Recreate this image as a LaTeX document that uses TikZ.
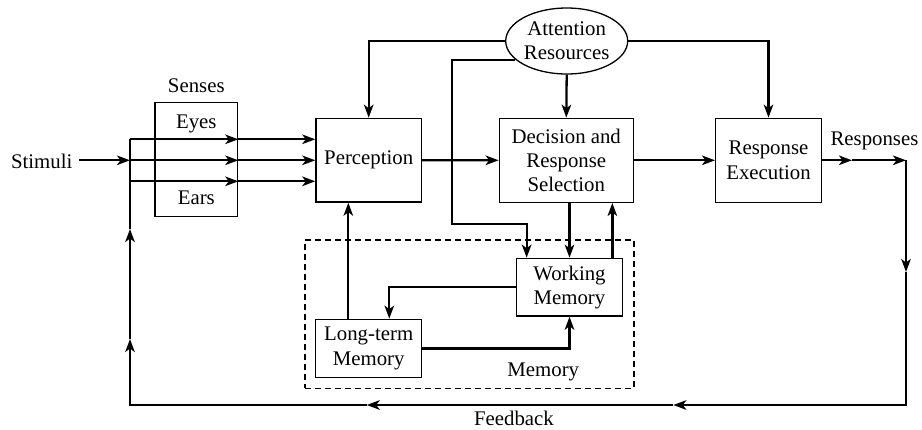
\documentclass[tikz,border=0pt]{standalone}
\usepackage{fontspec}
\setmainfont{Liberation Serif}
\usetikzlibrary{shapes.geometric,arrows.meta}
\begin{document}
\begin{tikzpicture}[x=1pt,y=-1pt,
  font=\fontsize{20.8}{24.3}\selectfont,
  box/.style={draw,line width=1.3pt,inner sep=0pt,align=center},
  conn/.style={line width=2.3pt},
  arr/.style={conn,-{Stealth[length=13pt,width=9.5pt,inset=3.5pt]}},
  lbl/.style={anchor=base,inner sep=0pt}]
\useasboundingbox (0,0) rectangle (922,429);
% nodes
\node[box,minimum width=82.7pt,minimum height=114pt] (senses) at (196.3,159.7) {};
\node[lbl] (senseslbl) at (196.3,92.7) {Senses};
\node[lbl] (eyes) at (196.3,128.3) {Eyes};
\node[lbl] (ears) at (196.3,204) {Ears};
\node[lbl] (stim) at (41.7,168.3) {Stimuli};
\node[box,minimum width=105.5pt,minimum height=83.7pt] (perc) at (368.7,160.2) {Perception};
\node[box,minimum width=134pt,minimum height=84pt] (dec) at (566.3,160.3) {Decision and\\Response\\Selection};
\node[box,minimum width=105.6pt,minimum height=84pt] (resp) at (768.5,160.3) {Response\\Execution};
\node[draw,ellipse,line width=1.3pt,inner sep=0pt,minimum width=122pt,minimum height=66pt,align=center] (att) at (566.7,41) {Attention\\Resources};
\node[box,minimum width=105.6pt,minimum height=57.7pt] (wm) at (569.5,287.2) {Working\\Memory};
\node[box,minimum width=106pt,minimum height=58.4pt] (ltm) at (368.7,348.5) {Long-term\\Memory};
\node[draw,dash pattern=on 6pt off 4pt,line width=1.2pt,minimum width=329pt,minimum height=148.3pt,inner sep=0pt] (mem) at (469.5,314.15) {};
\node[lbl] (memlbl) at (543.3,376) {Memory};
\node[lbl] (fb) at (514,425.5) {Feedback};
\node[lbl] (resplbl) at (874.5,145) {Responses};
% coordinates
\coordinate (jt) at (130,139.3);
\coordinate (jm) at (130,160.3);
\coordinate (jb) at (130,181.3);
\coordinate (r1) at (852,160.3);
\coordinate (rc) at (906,160.3);
\coordinate (rd) at (906,272);
\coordinate (bl) at (673.3,405);
\coordinate (bm) at (366.7,405);
\coordinate (lu1) at (130,339);
\coordinate (lu2) at (130,229);
% stimuli and senses
\path (stim.east |- jm) ++(6.5,0) coordinate (s0);
\draw[arr] (s0) -- (jm);
\foreach \j in {jt,jm,jb}{
  \draw[arr] (\j) -- (\j -| senses.east);
  \draw[arr] (\j -| senses.east) -- (\j -| perc.west);
}
% main flow
\draw[arr] (perc.east) -- (dec.west);
\draw[arr] (dec.east) -- (resp.west);
\draw[arr] (resp.east) -- (r1);
\draw[arr] (r1) -- (rc);
\draw[arr] (rc) -- (rd);
\draw[arr] (rd) |- (bl);
\draw[arr] (bl) -- (bm);
\draw[arr] (bm) -| (lu1);
\draw[arr] (lu1) -- (lu2);
\draw[conn] (lu2) -- (jt);
% attention
\draw[arr] (att.west) -| (perc.north);
\draw[arr] (att.east) -| (resp.north);
\draw[arr] (att.south) -- (dec.north);
\draw[arr] (att.200) -| (452,224.3) -| ([xshift=10.6pt]wm.north west);
% memory
\draw[arr] (wm.north |- dec.south) -- (wm.north);
\path ([xshift=-10.6pt]wm.north east) coordinate (u);
\draw[arr] (u) -- (u |- dec.south);
\draw[arr] (wm.west) -| ([xshift=20.6pt]ltm.north);
\draw[arr] (ltm.east) -| (wm.south);
\path ([xshift=-20.4pt]ltm.north) coordinate (v);
\draw[arr] (v) -- (v |- perc.south);
\end{tikzpicture}
\end{document}
